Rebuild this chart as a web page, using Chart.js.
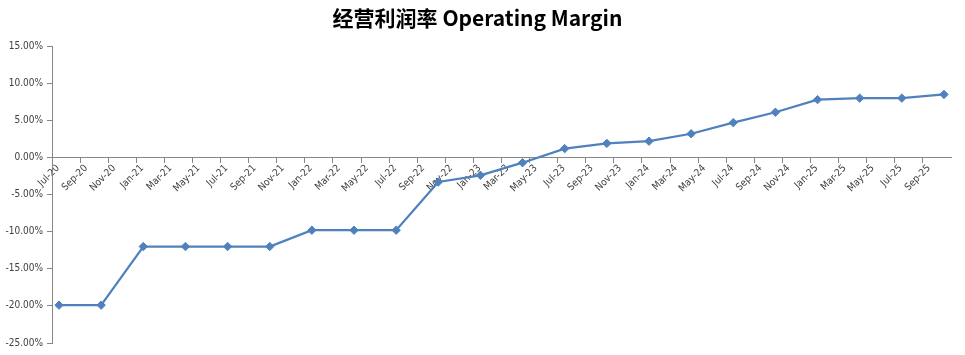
<!DOCTYPE html>
<html>
<head>
<meta charset="utf-8">
<script src="https://cdn.jsdelivr.net/npm/chart.js@4.4.1/dist/chart.umd.min.js"></script>
<style>
  html, body { margin: 0; padding: 0; background: #fff; }
  #wrap { width: 965px; height: 355px; position: relative; }
</style>
</head>
<body>
<div id="wrap"><canvas id="c" width="965" height="355"></canvas></div>
<script>
// Month tick labels of the axis (one slot per month)
const months = [
  'Jul-20','Aug-20','Sep-20','Oct-20','Nov-20','Dec-20',
  'Jan-21','Feb-21','Mar-21','Apr-21','May-21','Jun-21','Jul-21','Aug-21','Sep-21','Oct-21','Nov-21','Dec-21',
  'Jan-22','Feb-22','Mar-22','Apr-22','May-22','Jun-22','Jul-22','Aug-22','Sep-22','Oct-22','Nov-22','Dec-22',
  'Jan-23','Feb-23','Mar-23','Apr-23','May-23','Jun-23','Jul-23','Aug-23','Sep-23','Oct-23','Nov-23','Dec-23',
  'Jan-24','Feb-24','Mar-24','Apr-24','May-24','Jun-24','Jul-24','Aug-24','Sep-24','Oct-24','Nov-24','Dec-24',
  'Jan-25','Feb-25','Mar-25','Apr-25','May-25','Jun-25','Jul-25','Aug-25','Sep-25','Oct-25'
];
// Quarterly observation dates
const quarters = [
  'Jul-20','Oct-20','Jan-21','Apr-21','Jul-21','Oct-21','Jan-22','Apr-22','Jul-22','Oct-22','Jan-23',
  'Apr-23','Jul-23','Oct-23','Jan-24','Apr-24','Jul-24','Oct-24','Jan-25','Apr-25','Jul-25','Oct-25'
];
// Operating margin, %
const margin = [
  -19.9, -19.9, -12.0, -12.0, -12.0, -12.0, -9.8, -9.8, -9.8, -3.3, -2.4,
  -0.7, 1.2, 1.9, 2.2, 3.2, 4.7, 6.1, 7.8, 8.0, 8.0, 8.5
];
const yTicks = [-25, -20, -15, -10, -5, 0, 5, 10, 15];

const axisColor = '#868686';
const textColor = '#404040';
const tickFont = { family: "'DejaVu Sans Condensed', 'DejaVu Sans', sans-serif", size: 10 };

new Chart(document.getElementById('c'), {
  type: 'line',
  data: {
    labels: months,
    datasets: [{
      label: '经营利润率 Operating Margin',
      data: quarters.map((q, i) => ({ x: q, y: margin[i] })),
      borderColor: '#4F81BD',
      backgroundColor: '#4F81BD',
      borderWidth: 2.25,
      pointStyle: 'rectRot',
      pointRadius: 4.2,
      pointBorderWidth: 1,
      pointBorderColor: '#4F81BD',
      pointBackgroundColor: '#4F81BD',
      tension: 0,
      spanGaps: true
    }]
  },
  options: {
    responsive: false,
    animation: false,
    devicePixelRatio: 1,
    layout: { padding: { left: 4, right: 14, top: 0, bottom: 12 } },
    plugins: {
      legend: { display: false },
      tooltip: { enabled: false },
      title: {
        display: true,
        text: '经营利润率 Operating Margin',
        color: '#000',
        font: { family: "'Noto Sans CJK SC', 'Noto Sans', sans-serif", size: 21, weight: 'bold' },
        padding: { top: 5, bottom: 16 }
      }
    },
    scales: {
      x: {
        type: 'category',
        position: { y: 0 },
        offset: true,
        border: { display: true, color: axisColor, width: 1 },
        grid: {
          display: true,
          offset: true,
          drawOnChartArea: false,
          drawTicks: true,
          tickLength: 5,
          lineWidth: 1,
          color: (ctx) => (ctx.index % 2 === 0 ? axisColor : 'rgba(0,0,0,0)')
        },
        ticks: {
          autoSkip: false,
          maxRotation: 45,
          minRotation: 45,
          padding: 0,
          labelOffset: -1,
          color: textColor,
          font: tickFont,
          callback: function (val, idx) { return idx % 2 === 0 ? this.getLabelForValue(val) : ''; }
        }
      },
      y: {
        min: -25,
        max: 15,
        afterBuildTicks: (s) => { s.ticks = yTicks.map(v => ({ value: v })); },
        afterFit: (s) => { s.width = 48; },
        border: { display: true, color: axisColor, width: 1 },
        grid: {
          display: true,
          drawOnChartArea: false,
          drawTicks: true,
          tickLength: 5,
          color: axisColor
        },
        ticks: {
          padding: 4,
          color: textColor,
          font: tickFont,
          callback: (v) => v.toFixed(2) + '%'
        }
      }
    }
  }
});
</script>
</body>
</html>
